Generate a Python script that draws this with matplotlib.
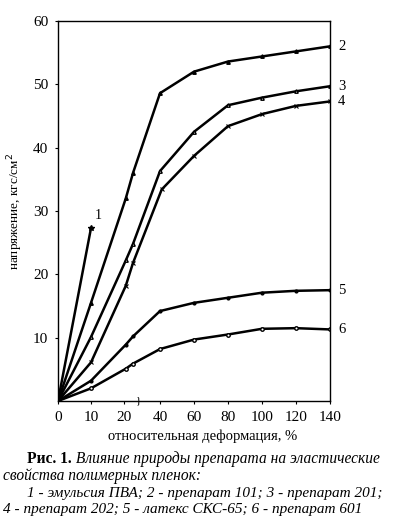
import numpy as np
import matplotlib
matplotlib.use("Agg")
from matplotlib import pyplot as plt

# curve data (strain %, stress kgf/cm2)
x1 = [0, 10]
y1 = [0, 27.3]

x2 = [0, 10, 21, 25, 40, 60, 80, 100, 120, 140]
y2 = [0, 15.5, 32.0, 36.0, 48.6, 52.0, 53.6, 54.4, 55.2, 56.0]

x3 = [0, 10, 21, 25, 40, 60, 80, 100, 120, 140]
y3 = [0, 10.1, 22.2, 24.8, 36.3, 42.5, 46.7, 47.9, 48.9, 49.7]

x4 = [0, 10, 21, 25, 41, 60, 80, 100, 120, 140]
y4 = [0, 6.1, 18.2, 21.8, 33.4, 38.7, 43.4, 45.3, 46.6, 47.3]

x5 = [0, 10, 21, 25, 40, 60, 80, 100, 120, 140]
y5 = [0, 3.2, 8.9, 10.2, 14.2, 15.5, 16.3, 17.1, 17.4, 17.5]

x6 = [0, 10, 21, 25, 40, 60, 80, 100, 120, 140]
y6 = [0, 2.0, 5.1, 5.9, 8.2, 9.7, 10.5, 11.4, 11.5, 11.3]

xticks = [0, 10, 20, 40, 60, 80, 100, 120, 140]
yticks = [10, 20, 30, 40, 50, 60]

caption_bold = "Рис. 1."
caption_1 = " Влияние природы препарата на эластические"
caption_2 = "свойства полимерных пленок:"
caption_3 = "1 - эмульсия ПВА; 2 - препарат 101; 3 - препарат 201;"
caption_4 = "4 - препарат 202; 5 - латекс СКС-65; 6 - препарат 601"

plt.rcParams['font.family'] = ['Liberation Serif', 'DejaVu Serif']

# broken x axis: 0-20 is drawn at about twice the scale of 40-140
bx = [-100, 0, 20, 40, 140, 400]
bp = [-272, 58, 124, 160, 330, 772]
fwd = lambda v: np.interp(v, bx, bp)
inv = lambda p: np.interp(p, bp, bx)

fig = plt.figure(figsize=(3.98, 5.26), dpi=100)
ax = fig.add_axes([58/398, 125/526, 272/398, 380/526])
ax.set_xscale('function', functions=(fwd, inv))

lw = 1.8
ax.plot(x1, y1, color='black', lw=lw, marker='*', markevery=[1], ms=4)
ax.plot(x2, y2, color='black', lw=lw, marker='^', markevery=list(range(1, len(x2))), ms=2.5)
ax.plot(x3, y3, color='black', lw=lw, marker='^', markevery=list(range(1, len(x3))), ms=2.5,
        mfc='white')
ax.plot(x4, y4, color='black', lw=lw, marker='x', markevery=list(range(1, len(x4))), ms=3,
        mew=0.8)
ax.plot(x5, y5, color='black', lw=lw, marker='o', markevery=list(range(1, len(x5))), ms=2)
ax.plot(x6, y6, color='black', lw=lw, marker='o', markevery=list(range(1, len(x6))), ms=2.5,
        mfc='white')

ax.annotate('1', xy=(x1[-1], y1[-1]), xytext=(4, 6), textcoords='offset pixels',
            fontsize=10, ha='left', va='bottom')
for xs, ys, lab in [(x2, y2, '2'), (x3, y3, '3'), (x4, y4, '4'), (x5, y5, '5'), (x6, y6, '6')]:
    ax.annotate(lab, xy=(xs[-1], ys[-1]), xytext=(8, 0), textcoords='offset pixels',
                fontsize=10.5, ha='left', va='center', annotation_clip=False)

ax.set_xlim(0, 140)
ax.set_ylim(0, 60)
ax.set_xticks(xticks)
ax.set_xticklabels([str(t) for t in xticks])
ax.set_yticks(yticks)
ax.set_yticklabels([str(t) for t in yticks])
ax.tick_params(direction='out', length=2, width=0.8, labelsize=11, pad=5)
for s in ax.spines.values():
    s.set_linewidth(1.0)

# break mark on the x axis
ax.text(28, 0, '}', fontsize=8, ha='center', va='center')

ax.set_xlabel('относительная деформация, %', fontsize=10.5)
ax.xaxis.set_label_coords(0.53, -0.075)
ax.set_ylabel('напряжение, кгс/см$^2$', fontsize=9.5)
ax.yaxis.set_label_coords(-0.12, 0.5)

t1 = fig.text(27/398, 1 - 459/526, caption_bold, fontsize=11.2, fontweight='bold', va='center')
ax.annotate(caption_1, xy=(1, 0.5), xycoords=t1, va='center', ha='left',
            fontsize=11.2, fontstyle='italic', annotation_clip=False)
fig.text(3/398, 1 - 476/526, caption_2, fontsize=11.2, fontstyle='italic', va='center')
fig.text(27/398, 1 - 493/526, caption_3, fontsize=11, fontstyle='italic', va='center')
fig.text(3/398, 1 - 509/526, caption_4, fontsize=11, fontstyle='italic', va='center')

fig.savefig('out.png', dpi=100)
